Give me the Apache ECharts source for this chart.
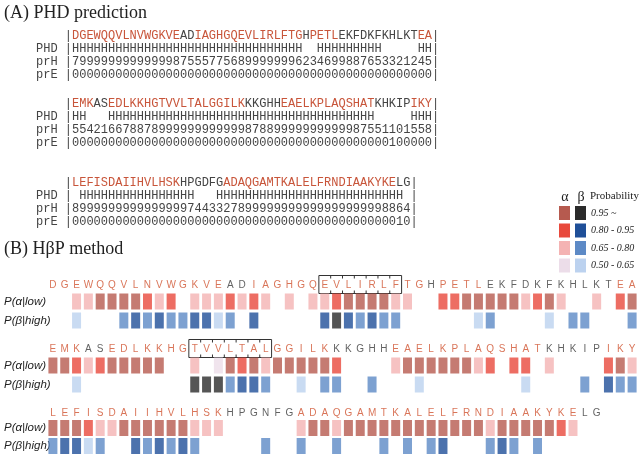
<!DOCTYPE html>
<html>
<head>
<meta charset="utf-8">
<script src="https://cdn.jsdelivr.net/npm/echarts@6/dist/echarts.min.js"></script>
<style>
  html, body { margin: 0; padding: 0; background: #fff; }
  #chart { width: 640px; height: 455px; }
</style>
</head>
<body>
<div id="chart"></div>
<script>
// (A) PHD prediction: sequence segments alternate helix (red) / other (black), starting with helix
const segA1 = ['DGEWQQVLNVWGKVE', 'AD', 'IAGHGQEVLIRLFTG', 'H', 'PETL', 'EKFDKFKHLKT', 'EA'];
const segA2 = ['EMK', 'AS', 'EDLKKHGTVVLTALGGILK', 'KKGHH', 'EAELKPLAQSHAT', 'KHKIP', 'IKY'];
const segA3 = ['LEFISDAIIHVLHSK', 'HPGDFG', 'ADAQGAMTKALELFRNDIAAKYKE', 'LG'];
const phd1 = 'HHHHHHHHHHHHHHHHHHHHHHHHHHHHHHHH  HHHHHHHHH     HH';
const prh1 = '79999999999999875557756899999996234699887653321245';
const pre1 = '00000000000000000000000000000000000000000000000000';
const phd2 = 'HH   HHHHHHHHHHHHHHHHHHHHHHHHHHHHHHHHHHHHH     HHH';
const prh2 = '55421667887899999999999987889999999999987551101558';
const pre2 = '00000000000000000000000000000000000000000000100000';
const phd3 = ' HHHHHHHHHHHHHHHH   HHHHHHHHHHHHHHHHHHHHHHHHHH ';
const prh3 = '89999999999999997443327899999999999999999998864';
const pre3 = '00000000000000000000000000000000000000000000010';

// (B) HbetaP method: sequence rows and probability classes
// class: 0 none, 1 = 0.50-0.65, 2 = 0.65-0.80, 3 = 0.80-0.95, 4 = 0.95~
const segB1 = segA1;
const segB2 = segA2;
const segB3 = ['LEFISDAIIHVLHSK', 'HPGNFG', 'ADAQGAMTKALELFRNDIAAKYKE', 'LG'];
const alpha1 = [0,0,2,2,4,4,4,4,3,2,3,0,2,2,2,3,2,3,2,0,2,0,2,2,3,4,4,4,4,2,2,0,0,3,3,4,4,4,4,4,2,3,4,2,0,0,2,0,3,4];
const beta1  = [0,0,1,0,0,0,2,3,2,3,2,2,3,3,1,2,0,3,0,0,0,0,0,3,4,3,2,3,2,2,0,0,0,0,0,0,1,2,0,0,0,0,1,0,2,2,0,0,0,2];
const alpha2 = [4,4,3,2,3,4,4,4,4,4,0,0,2,0,1,4,3,4,2,4,4,4,4,4,3,0,0,0,0,2,4,4,4,4,4,4,2,3,0,3,3,0,2,0,0,0,0,3,4,2];
const beta2  = [0,0,1,0,0,0,0,0,0,0,0,0,4,4,4,2,3,3,2,0,0,1,0,2,2,0,0,2,0,0,0,1,0,0,0,0,0,0,0,0,1,0,0,0,0,2,0,3,2,2];
const alpha3 = [4,4,4,3,2,2,4,4,4,4,4,4,2,2,2,0,0,0,0,0,0,2,4,4,2,4,4,4,4,4,4,4,4,4,4,4,4,2,4,4,4,4,4,3,2,0,0];
const beta3  = [2,3,3,1,2,0,0,3,2,3,2,3,2,0,0,0,0,0,2,0,0,2,0,0,2,0,0,0,2,0,2,0,2,3,0,0,0,2,3,2,0,2,0,0,0,0,0];
const boxes1 = [[23, 29]];
const boxes2 = [[12, 18]];

const probLabels = ['0.95 ~', '0.80 - 0.95', '0.65 - 0.80', '0.50 - 0.65'];
const alphaColors = [null, '#ecdde9', '#f4b3b3', '#e8493c', '#b65a4f'];
const betaColors  = [null, '#bcd2ef', '#5d8ac6', '#1f4f98', '#2b2b2b'];
const RED = '#d0532f', BLK = '#3a3a3a';

const chart = echarts.init(document.getElementById('chart'));

const mono = '12px "Liberation Mono"';
function richSeq(segs) {
  return '    |' + segs.map((s, i) => '{' + (i % 2 ? 'k' : 'r') + '|' + s + '}').join('') + '|';
}
const graphics = [];
function monoLine(text, y) {
  graphics.push({
    type: 'text', x: 36, y: y,
    style: {
      text: text, font: mono, fill: '#444', verticalAlign: 'middle',
      rich: { r: { font: mono, fill: '#c8553a' }, k: { font: mono, fill: '#444' } }
    }
  });
}
const blocks = [[segA1, phd1, prh1, pre1, 36], [segA2, phd2, prh2, pre2, 104], [segA3, phd3, prh3, pre3, 183]];
blocks.forEach(([seg, phd, prh, pre, y]) => {
  monoLine(richSeq(seg), y);
  monoLine('PHD |' + phd + '|', y + 13);
  monoLine('prH |' + prh + '|', y + 26);
  monoLine('prE |' + pre + '|', y + 39);
});

graphics.push({ type: 'text', x: 4, y: 13, style: { text: '(A) PHD prediction', font: '18px "Liberation Serif"', fill: '#222', verticalAlign: 'middle' } });
graphics.push({ type: 'text', x: 4, y: 249, style: { text: '(B) HβP method', font: '18px "Liberation Serif"', fill: '#222', verticalAlign: 'middle' } });

// legend
graphics.push({ type: 'text', x: 565, y: 197, style: { text: 'α', font: '14px "Liberation Serif"', fill: '#222', align: 'center', verticalAlign: 'middle' } });
graphics.push({ type: 'text', x: 581, y: 197, style: { text: 'β', font: '14px "Liberation Serif"', fill: '#222', align: 'center', verticalAlign: 'middle' } });
graphics.push({ type: 'text', x: 590, y: 196, style: { text: 'Probability', font: '11px "Liberation Serif"', fill: '#222', verticalAlign: 'middle' } });
probLabels.forEach((lab, k) => {
  const y = 213 + k * 17.5;
  graphics.push({ type: 'rect', shape: { x: 559, y: y - 7, width: 11, height: 14 }, style: { fill: alphaColors[4 - k] } });
  graphics.push({ type: 'rect', shape: { x: 575, y: y - 7, width: 11, height: 14 }, style: { fill: betaColors[4 - k] } });
  graphics.push({ type: 'text', x: 591, y: y, style: { text: lab, font: 'italic 10px "Liberation Serif"', fill: '#222', verticalAlign: 'middle' } });
});

// part B grids
const rows = [
  { seg: segB1, a: alpha1, b: beta1, boxes: boxes1, top: 273 },
  { seg: segB2, a: alpha2, b: beta2, boxes: boxes2, top: 337 },
  { seg: segB3, a: alpha3, b: beta3, boxes: [], top: 401 }
];
const grids = [], xAxes = [], yAxes = [], series = [];
rows.forEach((row, r) => {
  grids.push({ left: 47, width: 591, top: row.top, height: 57 });
  xAxes.push({ gridIndex: r, type: 'value', min: -0.5, max: 49.5, show: false });
  yAxes.push({
    gridIndex: r, type: 'category', inverse: true,
    data: ['seq', 'P(α|low)', 'P(β|high)'],
    axisLine: { show: false }, axisTick: { show: false }, splitLine: { show: false },
    axisLabel: {
      align: 'left', margin: 43, fontStyle: 'italic', fontSize: 11.5,
      fontFamily: 'Liberation Sans', color: '#222',
      formatter: v => (v === 'seq' ? '' : v)
    }
  });
  const letters = [];
  row.seg.forEach((s, si) => {
    for (const ch of s) {
      letters.push({ value: [letters.length, 'seq'], name: ch, label: { color: si % 2 ? BLK : RED } });
    }
  });
  series.push({
    type: 'scatter', xAxisIndex: r, yAxisIndex: r, symbolSize: 0, data: letters,
    label: { show: true, position: 'inside', offset: [0, 3], formatter: '{b}', fontSize: 10, fontFamily: 'Liberation Sans' }
  });
  const cells = (arr, cat, colors) => arr.map((c, i) => c ? { value: [i, cat], itemStyle: { color: colors[c] } } : null).filter(d => d);
  series.push({ type: 'scatter', xAxisIndex: r, yAxisIndex: r, symbol: 'rect', symbolSize: [9, 16], data: cells(row.a, 'P(α|low)', alphaColors) });
  series.push({ type: 'scatter', xAxisIndex: r, yAxisIndex: r, symbol: 'rect', symbolSize: [9, 16], data: cells(row.b, 'P(β|high)', betaColors) });
  if (row.boxes.length) {
    series.push({
      type: 'custom', xAxisIndex: r, yAxisIndex: r, data: row.boxes,
      renderItem: (params, api) => {
        const i0 = api.value(0), i1 = api.value(1);
        const a = api.coord([i0 - 0.5, 0]);
        const b = api.coord([i1 + 0.5, 0]);
        const y0 = a[1] - 7, y1 = a[1] + 11;
        const kids = [{ type: 'rect', shape: { x: a[0], y: y0, width: b[0] - a[0], height: y1 - y0 }, style: { fill: null, stroke: '#333', lineWidth: 1 } }];
        for (let k = i0 + 0.5; k < i1; k++) {
          const x = api.coord([k, 0])[0];
          kids.push({ type: 'line', shape: { x1: x, y1: y0, x2: x, y2: y0 + 3 }, style: { stroke: '#333', lineWidth: 1 } });
          kids.push({ type: 'line', shape: { x1: x, y1: y1, x2: x, y2: y1 - 3 }, style: { stroke: '#333', lineWidth: 1 } });
        }
        return { type: 'group', children: kids };
      }
    });
  }
});

chart.setOption({
  animation: false,
  backgroundColor: '#fff',
  grid: grids, xAxis: xAxes, yAxis: yAxes, series: series,
  graphic: graphics
});
</script>
</body>
</html>
